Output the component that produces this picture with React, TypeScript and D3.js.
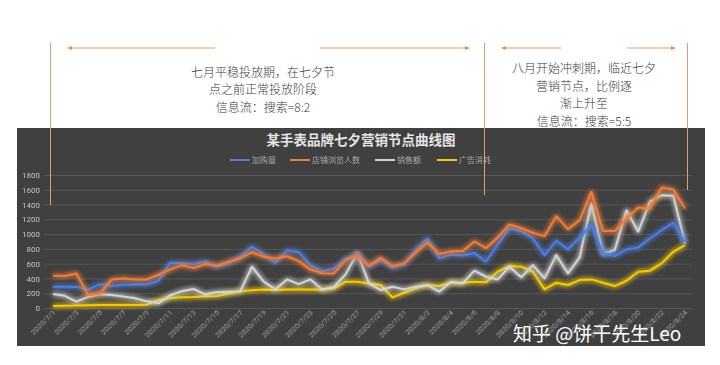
import React, { useEffect, useRef } from "react";
import * as d3 from "d3";

// categories: 2020/7/1 .. 2020/8/24
const dates = d3.timeDay
    .range(new Date(2020, 6, 1), new Date(2020, 7, 25))
    .map(d => `${d.getFullYear()}/${d.getMonth() + 1}/${d.getDate()}`);

const seriesNames = ["加购量", "店铺浏览人数", "销售额", "广告消耗"];
const seriesColors = ["#4d7ee0", "#ee7d3a", "#d4d4d4", "#f2c811"];

const addCart = [
    288, 288, 285, 248, 322, 297, 315, 318, 318, 365,
    613, 604, 595, 630, 562, 604, 694, 829, 730, 610,
    780, 755, 575, 498, 530, 665, 735, 560, 650, 545,
    590, 784, 941, 671, 725, 710, 745, 630, 860, 1077,
    1040, 941, 716, 910, 793, 955, 1122, 739, 703, 793,
    820, 941, 1054, 1153, 890
];
const shopViews = [
    437, 432, 468, 176, 195, 387, 400, 387, 387, 450,
    520, 581, 540, 595, 572, 626, 671, 755, 694, 671,
    700, 635, 520, 470, 468, 649, 716, 570, 678, 568,
    604, 750, 885, 735, 765, 770, 900, 810, 955, 1130,
    1080, 1018, 973, 1243, 1068, 1189, 1572, 1041, 1041, 1212,
    1360, 1347, 1630, 1604, 1347
];
const sales = [
    189, 165, 86, 150, 185, 176, 155, 131, 90, 63,
    170, 228, 257, 185, 212, 221, 225, 559, 356, 252,
    387, 324, 387, 250, 284, 455, 745, 333, 243, 288,
    252, 288, 311, 221, 356, 333, 505, 423, 387, 559,
    415, 581, 401, 716, 468, 685, 1414, 730, 784, 1324,
    1032, 1437, 1527, 1518, 874
];
const adCost = [
    27, 30, 33, 36, 40, 40, 40, 42, 45, 108,
    135, 144, 150, 160, 162, 195, 228, 240, 250, 243,
    250, 252, 252, 252, 266, 356, 356, 333, 311, 144,
    207, 266, 311, 297, 342, 342, 356, 347, 491, 568,
    559, 491, 252, 342, 311, 378, 387, 342, 297, 369,
    491, 505, 604, 761, 851
];
const seriesValues = [addCart, shopViews, sales, adCost];
const yTicks = [0, 200, 400, 600, 800, 1000, 1200, 1400, 1600, 1800];

const leftNote = ["七月平稳投放期，在七夕节", "点之前正常投放阶段", "信息流：搜索=8:2"];
const rightNote = ["八月开始冲刺期，临近七夕", "营销节点，比例逐", "渐上升至", "信息流：搜索=5:5"];

function App() {
    const chart = useRef(null);

    useEffect(() => {
        const width = 720;
        const height = 365;
        const svg = d3.select(chart.current)
            .attr("width", width)
            .attr("height", height);

        const defs = svg.append("defs");
        const glow = defs.append("filter")
            .attr("id", "glow")
            .attr("x", "-10%").attr("y", "-30%")
            .attr("width", "120%").attr("height", "160%");
        glow.append("feGaussianBlur")
            .attr("in", "SourceGraphic")
            .attr("stdDeviation", 2.8)
            .attr("result", "blur");
        const merge = glow.append("feMerge");
        merge.append("feMergeNode").attr("in", "blur");
        merge.append("feMergeNode").attr("in", "blur");
        merge.append("feMergeNode").attr("in", "SourceGraphic");

        const blurText = defs.append("filter").attr("id", "soft");
        blurText.append("feGaussianBlur").attr("stdDeviation", 0.35);

        defs.append("marker")
            .attr("id", "arrow")
            .attr("viewBox", "0 0 10 10")
            .attr("refX", 8).attr("refY", 5)
            .attr("markerWidth", 5).attr("markerHeight", 5)
            .attr("orient", "auto-start-reverse")
            .append("path")
                .attr("d", "M0,1 L9,5 L0,9 Z")
                .attr("fill", "#ec8a55");

        svg.append("rect")
            .attr("width", width).attr("height", height)
            .attr("fill", "#ffffff");

        // dark panel
        svg.append("rect")
            .attr("x", 17).attr("y", 128)
            .attr("width", 688).attr("height", 218)
            .attr("fill", "#404040");

        const x = d3.scalePoint()
            .domain(dates)
            .range([53, 685]);

        const y = d3.scaleLinear()
            .domain([0, 1800])
            .range([308, 175]);

        // grid
        const yAxis = d3.axisLeft(y)
            .tickValues(yTicks)
            .tickFormat(d3.format("d"))
            .tickSize(-(692 - 44))
            .tickPadding(4);

        const gy = svg.append("g")
            .attr("transform", "translate(44,0)")
            .call(yAxis);
        gy.select(".domain").remove();
        gy.selectAll(".tick line")
            .attr("stroke", "#575757")
            .attr("stroke-width", 1);
        gy.selectAll(".tick text")
            .attr("fill", "#c4c4c4")
            .attr("font-size", 8)
            .attr("font-family", "Roboto, sans-serif")
            .attr("filter", "url(#soft)");

        // x labels, every other date
        svg.append("g")
            .selectAll("text")
            .data(dates.filter((d, i) => i % 2 === 0))
            .enter()
            .append("text")
                .attr("transform", d => `translate(${x(d) + 3},${313}) rotate(-45)`)
                .attr("text-anchor", "end")
                .attr("fill", "#a0a0a0")
                .attr("font-size", 7.5)
                .attr("font-family", "Roboto, sans-serif")
                .attr("filter", "url(#soft)")
                .text(d => d);

        // series lines
        const line = d3.line()
            .x((d, i) => x(dates[i]))
            .y(d => y(d));

        const drawOrder = [3, 2, 0, 1];
        drawOrder.forEach(k => {
            svg.append("path")
                .datum(seriesValues[k])
                .attr("d", line)
                .attr("fill", "none")
                .attr("stroke", seriesColors[k])
                .attr("stroke-width", 2)
                .attr("stroke-linejoin", "round")
                .attr("filter", "url(#glow)");
        });

        // title
        svg.append("text")
            .attr("x", 361).attr("y", 145)
            .attr("text-anchor", "middle")
            .attr("fill", "#e6e6e6")
            .attr("font-size", 13.5)
            .attr("font-weight", "bold")
            .attr("font-family", "'Noto Sans CJK SC', sans-serif")
            .text("某手表品牌七夕营销节点曲线图");

        // legend
        const legendX = [230, 290, 375, 437];
        const legend = svg.append("g")
            .selectAll("g")
            .data(seriesNames)
            .enter()
            .append("g")
                .attr("transform", (d, i) => `translate(${legendX[i]},160)`);
        legend.append("line")
            .attr("x1", 0).attr("x2", 20)
            .attr("stroke", (d, i) => seriesColors[i])
            .attr("stroke-width", 2);
        legend.append("text")
            .attr("x", 22).attr("y", 3)
            .attr("fill", "#a8a8a8")
            .attr("font-size", 8)
            .attr("font-family", "'Noto Sans CJK SC', sans-serif")
            .attr("filter", "url(#soft)")
            .text(d => d);

        // annotation guides
        const guides = [[50.5, 205], [484.5, 195], [687.5, 190]];
        svg.append("g")
            .selectAll("line")
            .data(guides)
            .enter()
            .append("line")
                .attr("x1", d => d[0]).attr("x2", d => d[0])
                .attr("y1", 43).attr("y2", d => d[1])
                .attr("stroke", "#e99a6e")
                .attr("stroke-width", 1);

        const arrows = [[215, 68], [320, 469], [561, 502], [627, 675]];
        svg.append("g")
            .selectAll("line")
            .data(arrows)
            .enter()
            .append("line")
                .attr("x1", d => d[0]).attr("x2", d => d[1])
                .attr("y1", 48).attr("y2", 48)
                .attr("stroke", "#ec9a6c")
                .attr("stroke-width", 1)
                .attr("marker-end", "url(#arrow)");

        // multi-line notes
        const note = (lines, cx, y0) => {
            svg.append("g")
                .selectAll("text")
                .data(lines)
                .enter()
                .append("text")
                    .attr("x", cx)
                    .attr("y", (d, i) => y0 + i * 17.5)
                    .attr("text-anchor", "middle")
                    .attr("fill", "#3a3a3a")
                    .attr("font-size", 12)
                    .attr("font-weight", 300)
                    .attr("font-family", "'Noto Sans CJK SC', sans-serif")
                    .text(d => d);
        };
        note(leftNote, 263, 76.5);
        note(rightNote, 584, 73);

        // watermark
        svg.append("text")
            .attr("x", 513).attr("y", 341)
            .attr("fill", "#ffffff")
            .attr("font-size", 19)
            .attr("font-family", "'Noto Sans CJK SC', sans-serif")
            .text("知乎 @饼干先生Leo");

        return () => {
            svg.selectAll("*").remove();
        };
    }, []);

    return (
        <svg ref={chart} style={{ position: "absolute", left: 0, top: 0 }}></svg>
    );
}

export default App;
